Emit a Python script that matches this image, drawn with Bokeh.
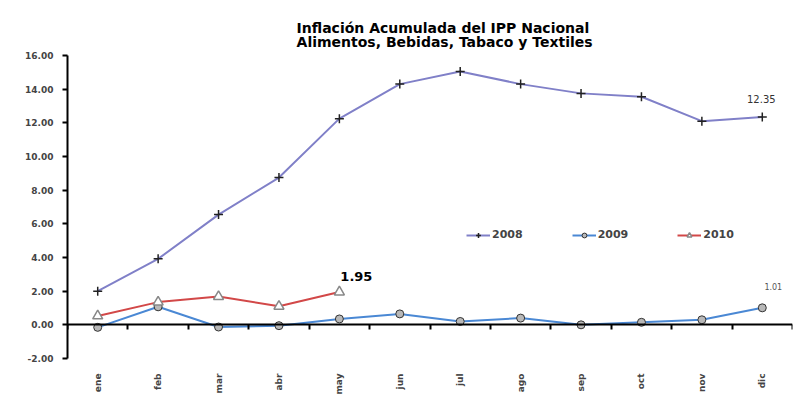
from bokeh.plotting import figure
from bokeh.models import (Range1d, LinearAxis, FixedTicker, NumeralTickFormatter,
                          Legend, LegendItem)
from bokeh.core.properties import value
from bokeh.embed import file_html
from bokeh.resources import INLINE
import math

# ---- data ----
months = ["ene", "feb", "mar", "abr", "may", "jun", "jul", "ago", "sep", "oct", "nov", "dic"]
v2008 = [2.0, 3.92, 6.55, 8.75, 12.25, 14.3, 15.05, 14.3, 13.75, 13.55, 12.1, 12.35]
v2009 = [-0.15, 1.07, -0.13, -0.05, 0.35, 0.65, 0.2, 0.4, 0.0, 0.15, 0.3, 1.01]
v2010 = [0.53, 1.35, 1.68, 1.1, 1.95]
y_ticks = [-2, 0, 2, 4, 6, 8, 10, 12, 14, 16]
series_names = ["2008", "2009", "2010"]
title_lines = ["Inflación Acumulada del IPP Nacional",
               "Alimentos, Bebidas, Tabaco y Textiles"]

FONT = "DejaVu Sans"
x_all = list(range(1, len(months) + 1))
PAD = "\u00a0" * 6  # nudges the centred title slightly to the right

p = figure(width=794, height=402, output_backend="svg", toolbar_location=None,
           x_range=Range1d(0.5, len(months) + 0.5), y_range=Range1d(-2, 16),
           min_border_left=67, min_border_right=2, min_border_top=55, min_border_bottom=44,
           title="\n".join(PAD + t for t in title_lines))
p.outline_line_color = None
p.grid.visible = False

p.title.align = "center"
p.title.text_font = FONT
p.title.text_font_size = "14px"
p.title.text_font_style = "bold"
p.title.text_color = "#000000"
p.title.text_line_height = 0.92

# y axis
ya = p.yaxis[0]
ya.ticker = FixedTicker(ticks=y_ticks)
ya.formatter = NumeralTickFormatter(format="0.00")
ya.axis_line_width = 2
ya.axis_line_color = "#000000"
ya.major_tick_in = 0
ya.major_tick_out = 5
ya.major_tick_line_width = 2
ya.minor_tick_line_color = None
ya.major_label_text_font = FONT
ya.major_label_text_font_style = "bold"
ya.major_label_text_font_size = "9px"
ya.major_label_standoff = 9

# x axis (labels only)
xa = p.xaxis[0]
xa.ticker = FixedTicker(ticks=x_all)
xa.major_label_overrides = {i: m for i, m in zip(x_all, months)}
xa.major_label_orientation = math.pi / 2
xa.axis_line_color = None
xa.major_tick_line_color = None
xa.major_tick_out = 0
xa.major_tick_in = 0
xa.minor_tick_line_color = None
xa.major_label_standoff = 15
xa.major_label_text_font = FONT
xa.major_label_text_font_style = "bold"
xa.major_label_text_font_size = "9px"

# zero axis line with boundary ticks
za = LinearAxis(fixed_location=0,
                ticker=FixedTicker(ticks=[i + 0.5 for i in range(0, len(months) + 1)]))
za.axis_line_width = 2
za.axis_line_color = "#000000"
za.major_tick_in = 0
za.major_tick_out = 5
za.major_tick_line_width = 2
za.major_tick_line_color = "#000000"
za.minor_tick_line_color = None
za.major_label_text_alpha = 0
za.major_label_text_font_size = "1px"
p.add_layout(za, "below")

c08, c09, c10 = "#8080C8", "#4A88D4", "#D24848"

l08 = p.line(x_all, v2008, line_color=c08, line_width=2)
m08 = p.scatter(x_all, v2008, marker="cross", size=9, line_color="#222222", line_width=1.5)
l09 = p.line(x_all, v2009, line_color=c09, line_width=2)
m09 = p.scatter(x_all, v2009, marker="circle", size=8, fill_color="#B8B8B8",
                line_color="#333333", line_width=1)
x10 = x_all[:len(v2010)]
l10 = p.line(x10, v2010, line_color=c10, line_width=2)
m10 = p.scatter(x10, v2010, marker="triangle", size=10, fill_color="#FFFFFF",
                line_color="#888888", line_width=1.5)

legend = Legend(items=[LegendItem(label=series_names[0], renderers=[l08, m08]),
                       LegendItem(label=series_names[1], renderers=[l09, m09]),
                       LegendItem(label=series_names[2], renderers=[l10, m10])],
                orientation="horizontal", location=(399, 117),
                glyph_width=24, glyph_height=12, label_standoff=2, spacing=49,
                padding=0, margin=0, border_line_color=None, background_fill_alpha=0,
                label_text_font=FONT, label_text_font_style="bold",
                label_text_font_size="11px")
p.add_layout(legend, "center")

# data labels
p.text(x=[x_all[-1]], y=[v2008[-1]], text=[f"{v2008[-1]:.2f}"], x_offset=-1, y_offset=-18,
       text_font=value(FONT), text_font_size="10px", text_color="#333333",
       text_align="center", text_baseline="middle")
p.text(x=[x10[-1]], y=[v2010[-1]], text=[f"{v2010[-1]:.2f}"], x_offset=17, y_offset=-16,
       text_font=value(FONT), text_font_size="13px", text_font_style="bold",
       text_color="#000000", text_align="center", text_baseline="middle")
p.text(x=[x_all[-1]], y=[v2009[-1]], text=[f"{v2009[-1]:.2f}"], x_offset=11, y_offset=-21,
       text_font=value(FONT), text_font_size="8px", text_color="#555555",
       text_align="center", text_baseline="middle")

open("out.html", "w").write(file_html(p, INLINE))
